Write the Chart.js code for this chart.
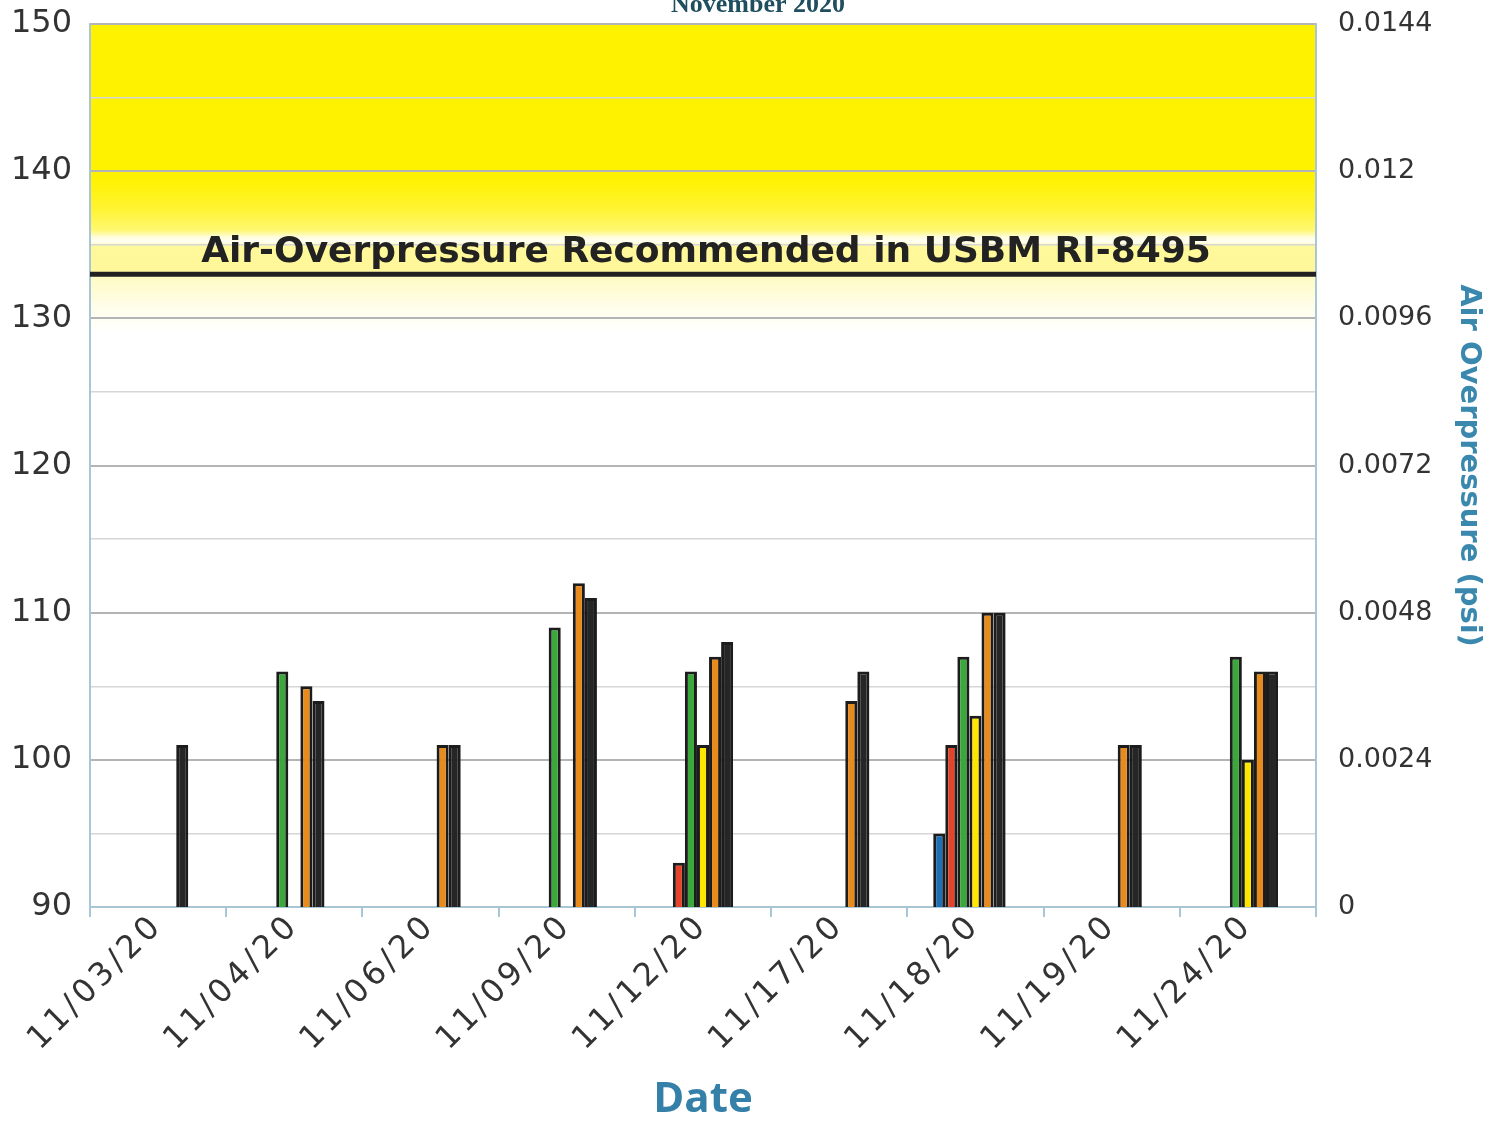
<!DOCTYPE html>
<html><head><meta charset="utf-8">
<script src="https://cdn.jsdelivr.net/npm/chart.js@4/dist/chart.umd.min.js"></script>
<style>html,body{margin:0;padding:0;background:#fff}#wrap{width:1486px;height:1130px}</style>
</head><body><div id="wrap"><canvas id="c" width="1486" height="1130"></canvas></div>
<script>
const categories = ['11/03/20','11/04/20','11/06/20','11/09/20','11/12/20','11/17/20','11/18/20','11/19/20','11/24/20'];
const blueValues   = [null, null, null, null, null, null, 95,  null, null];
const redValues    = [null, null, null, null, 93,   null, 101, null, null];
const greenValues  = [null, 106,  null, 109,  106,  null, 107, null, 107];
const yellowValues = [null, null, null, null, 101,  null, 103, null, 100];
const orangeValues = [null, 105,  101,  112,  107,  104,  110, 101,  106];
const blackValues  = [101,  104,  101,  111,  108,  106,  110, 101,  106];
const emptyValues  = [null, null, null, null, null, null, null, null, null];
const leftTicks = [90, 100, 110, 120, 130, 140, 150];
const rightTicks = [0, 0.0024, 0.0048, 0.0072, 0.0096, 0.012, 0.0144];
const rightTickLabels = ['0', '0.0024', '0.0048', '0.0072', '0.0096', '0.012', '0.0144'];
const limitValue = 133;
const limitLabel = 'Air-Overpressure Recommended in USBM RI-8495';
const chartTitle = 'November 2020';

const FONT = "'DejaVu Sans', sans-serif";
const AXIS_BLUE = '#a9c6d6';

const bgPlugin = {
  id: 'bg',
  beforeDraw(chart) {
    const {ctx, chartArea: a, scales: {y}} = chart;
    const y0 = y.getPixelForValue(150), y1 = y.getPixelForValue(129);
    const g = ctx.createLinearGradient(0, y0, 0, y1);
    const f = v => (150 - v) / (150 - 129);
    g.addColorStop(0, '#fff200');
    g.addColorStop(f(139.5), '#fff200');
    g.addColorStop(f(137.5), '#fff430');
    g.addColorStop(f(136), '#fff870');
    g.addColorStop(f(135.5), '#fffde0');
    g.addColorStop(f(135.2), '#fffff2');
    g.addColorStop(f(134.9), '#fff99c');
    g.addColorStop(f(133.3), '#fff79a');
    g.addColorStop(f(132.7), '#fffbc6');
    g.addColorStop(f(131), '#fffde6');
    g.addColorStop(1, '#ffffff');
    ctx.save();
    ctx.fillStyle = g;
    ctx.fillRect(a.left, y0, a.right - a.left, y1 - y0);
    ctx.restore();
  },
  afterDatasetsDraw(chart) {
    chart.ctx.letterSpacing = '4px';
  },
  afterDraw(chart) {
    const {ctx, chartArea: a, scales: {y}} = chart;
    ctx.letterSpacing = '0px';
    const py = y.getPixelForValue(limitValue);
    ctx.save();
    ctx.strokeStyle = '#222';
    ctx.lineWidth = 5;
    ctx.beginPath();
    ctx.moveTo(a.left, py);
    ctx.lineTo(a.right, py);
    ctx.stroke();
    ctx.fillStyle = '#222';
    ctx.font = "bold 36px " + FONT;
    ctx.textAlign = 'center';
    ctx.textBaseline = 'alphabetic';
    ctx.fillText(limitLabel, 706, py - 12);
    ctx.fillStyle = '#1f4e5e';
    ctx.font = "bold 26px 'Liberation Serif', serif";
    ctx.fillText(chartTitle, 758, 12);
    ctx.restore();
  }
};

const mk = (label, data, color) => ({
  label, data, backgroundColor: color, borderColor: '#1c1c1c', borderWidth: 3,
  borderSkipped: false, barPercentage: 1.0, categoryPercentage: 0.62, yAxisID: 'y'
});

const noPad = s => { s.paddingTop = 0; s.paddingBottom = 0; };

new Chart(document.getElementById('c'), {
  type: 'bar',
  data: {
    labels: categories,
    datasets: [
      mk('Blue', blueValues, '#1f6fb4'),
      mk('Red', redValues, '#e3442b'),
      mk('Green', greenValues, '#3aa83a'),
      mk('Yellow', yellowValues, '#ffe600'),
      mk('Orange', orangeValues, '#e98b1c'),
      mk('Black', blackValues, '#262626'),
      mk('Other', emptyValues, '#888888')
    ]
  },
  options: {
    responsive: false,
    animation: false,
    devicePixelRatio: 1,
    layout: {padding: {top: 24, left: 0, right: 0, bottom: 0}},
    plugins: {legend: {display: false}, tooltip: {enabled: false}, title: {display: false}},
    scales: {
      x: {
        grid: {display: true, drawOnChartArea: false, drawTicks: true, tickLength: 10, color: AXIS_BLUE, lineWidth: 2},
        border: {display: true, color: AXIS_BLUE, width: 2},
        ticks: {z: 1, color: '#333', font: {family: FONT, size: 32}, minRotation: 45, maxRotation: 45, padding: -10, autoSkip: false},
        title: {display: true, text: 'Date', color: '#3580a8', font: {family: "'Open Sans', sans-serif", size: 42, weight: 'bold'}, padding: {top: 0, bottom: 5}},
        afterFit: s => { s.height = 223; s.paddingLeft = 0; s.paddingRight = 0; }
      },
      y: {
        position: 'left',
        min: 90, max: 150,
        afterBuildTicks: s => { const t = []; for (let v = 90; v <= 150; v += 5) t.push({value: v}); s.ticks = t; },
        ticks: {color: '#333', font: {family: FONT, size: 32}, padding: 18,
          callback: v => leftTicks.includes(v) ? String(v) : ''},
        grid: {drawTicks: false, color: ctx => (ctx.tick && ctx.tick.value % 10 === 0) ? '#b4b4b4' : '#d6d6d6',
          lineWidth: ctx => (ctx.tick && ctx.tick.value % 10 === 0) ? 2 : 1.5},
        border: {display: true, color: AXIS_BLUE, width: 2},
        afterFit: s => { s.width = 90; noPad(s); }
      },
      y1: {
        position: 'right',
        min: 0, max: 0.0144,
        afterBuildTicks: s => { s.ticks = rightTicks.map(v => ({value: v})); },
        ticks: {color: '#333', font: {family: FONT, size: 27}, padding: 22,
          callback: (v, i) => rightTickLabels[i]},
        grid: {drawOnChartArea: false, drawTicks: false},
        border: {display: true, color: AXIS_BLUE, width: 2},
        title: {display: true, text: 'Air Overpressure (psi)', color: '#3a88ad', font: {family: FONT, size: 29, weight: 'bold'}, padding: 0},
        afterFit: s => { s.width = 170; noPad(s); }
      }
    }
  },
  plugins: [bgPlugin]
});
</script></body></html>
